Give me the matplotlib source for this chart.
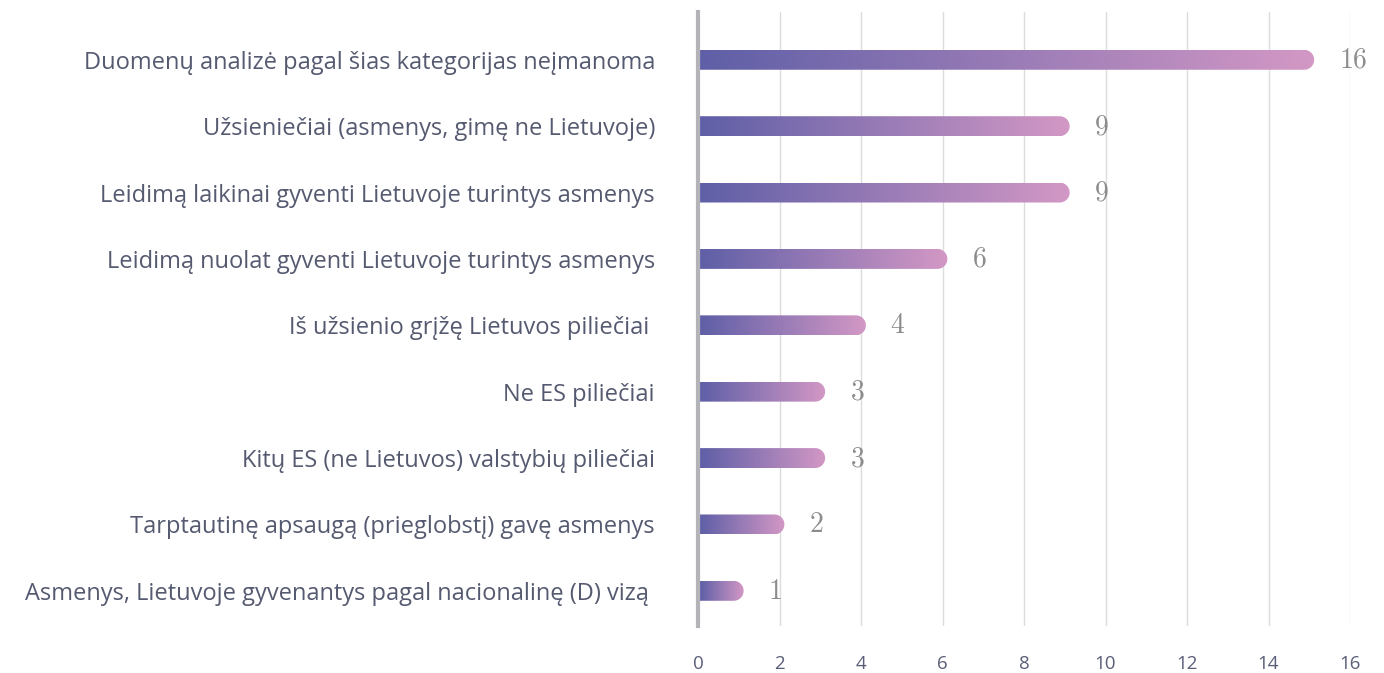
import matplotlib.pyplot as plt
import numpy as np
from matplotlib.path import Path
from matplotlib.patches import PathPatch
from matplotlib.colors import LinearSegmentedColormap

categories = [
    'Duomenų analizė pagal šias kategorijas neįmanoma',
    'Užsieniečiai (asmenys, gimę ne Lietuvoje)',
    'Leidimą laikinai gyventi Lietuvoje turintys asmenys',
    'Leidimą nuolat gyventi Lietuvoje turintys asmenys',
    'Iš užsienio grįžę Lietuvos piliečiai ',
    'Ne ES piliečiai',
    'Kitų ES (ne Lietuvos) valstybių piliečiai',
    'Tarptautinę apsaugą (prieglobstį) gavę asmenys',
    'Asmenys, Lietuvoje gyvenantys pagal nacionalinę (D) vizą ',
]
values = [15, 9, 9, 6, 4, 3, 3, 2, 1]
value_labels = ['16', '9', '9', '6', '4', '3', '3', '2', '1']
xticks = [0, 2, 4, 6, 8, 10, 12, 14, 16]

plt.rcParams['mathtext.fontset'] = 'cm'
cmap = LinearSegmentedColormap.from_list('bar', ['#5f5fa7', '#d398c5'])

W, H = 1384, 673
fig = plt.figure(figsize=(W / 100, H / 100), dpi=100)
# axes box in pixels: left 698, right 1350, top 12, bottom 626
ax = fig.add_axes([698 / W, 1 - 626 / H, (1350 - 698) / W, (626 - 12) / H])

n = len(categories)
ypos = np.arange(n)
ax.set_xlim(0, 16)
ax.set_ylim(n - 1 + 0.53, -0.72)

px_per_unit = (1350 - 698) / 16
bar_h = 0.3
rx = (bar_h * 66.4 / 2) / px_per_unit
grad = np.linspace(0, 1, 256).reshape(1, -1)

for y, v, lab in zip(ypos, values, value_labels):
    end = v + 0.12
    x0 = 0.05
    y0, y1 = y - bar_h / 2, y + bar_h / 2
    xc = end - rx
    verts = [(x0, y1), (x0, y0)]
    verts += [(xc + rx * np.cos(a), y - (bar_h / 2) * np.sin(a))
              for a in np.linspace(np.pi / 2, -np.pi / 2, 30)]
    verts += [(x0, y1)]
    codes = [Path.MOVETO] + [Path.LINETO] * (len(verts) - 2) + [Path.CLOSEPOLY]
    patch = PathPatch(Path(verts, codes), facecolor='none', edgecolor='none')
    ax.add_patch(patch)
    im = ax.imshow(grad, cmap=cmap, aspect='auto', extent=[x0, end, y1, y0],
                   interpolation='bicubic', zorder=3)
    im.set_clip_path(patch)
    ax.text(end + 0.6, y, r'$\mathrm{%s}$' % lab, va='center', ha='left',
            fontsize=20, color='#8c8c8c', zorder=4)

ax.set_xticks(xticks)
ax.set_xticklabels([str(t) for t in xticks], fontsize=13.5, color='#5a5f78',
                   family=['Open Sans', 'DejaVu Sans'])
ax.tick_params(axis='x', length=0, pad=21)
ax.set_yticks(ypos)
ax.set_yticklabels(categories, fontsize=17, color='#555a70',
                   family=['Open Sans', 'DejaVu Sans'])
ax.tick_params(axis='y', length=0, pad=31)
ax.xaxis.grid(True, color='#dcdcdc', linewidth=1)
ax.set_axisbelow(True)
for s in ['top', 'right', 'bottom']:
    ax.spines[s].set_visible(False)
ax.spines['left'].set_color('#b3b3b8')
ax.spines['left'].set_linewidth(3)
ax.spines['left'].set_zorder(5)

fig.savefig('out.png', dpi=100)
